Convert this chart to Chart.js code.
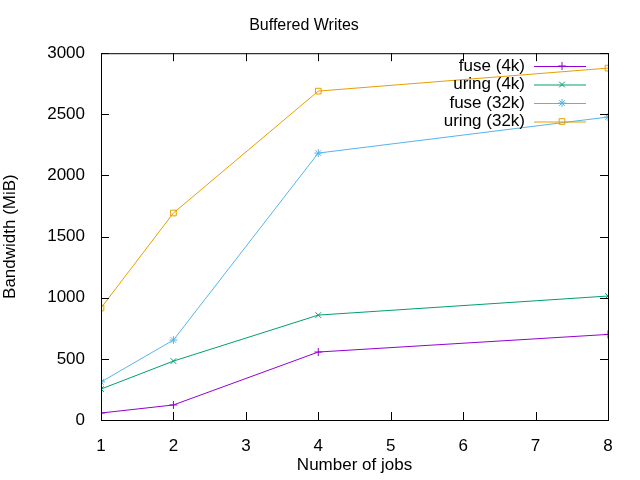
<!DOCTYPE html>
<html><head><meta charset="utf-8">
<script src="https://cdn.jsdelivr.net/npm/chart.js@4"></script>
<style>html,body{margin:0;padding:0;background:#fff}#w{width:640px;height:480px}</style>
</head><body><div id="w"><canvas id="c"></canvas></div>
<script>
const jobs = [1, 2, 4, 8];
const seriesLabels = ['fuse (4k)', 'uring (4k)', 'fuse (32k)', 'uring (32k)'];
const fuse4k = [57, 123, 556, 700];
const uring4k = [253, 482, 858, 1014];
const fuse32k = [311, 654, 2183, 2478];
const uring32k = [916, 1693, 2690, 2878];
const colors = ['#9400d3', '#009e73', '#56b4e9', '#e69f00'];
const styles = ['cross', 'crossRot', 'star', 'rect'];
const vals = [fuse4k, uring4k, fuse32k, uring32k];
const FONT = 'Liberation Sans, Arial, sans-serif';

const datasets = vals.map((v, i) => ({
  label: seriesLabels[i],
  data: jobs.map((x, k) => ({x, y: v[k]})),
  borderColor: colors[i], backgroundColor: 'rgba(0,0,0,0)',
  borderWidth: 1, pointStyle: styles[i], pointRadius: 4, pointBorderWidth: 1,
  pointBorderColor: colors[i], pointBackgroundColor: 'rgba(0,0,0,0)'
}));

const frame = {
  id: 'frame',
  afterDatasetsDraw(ch) {
    const {ctx, chartArea: a, scales: {x, y}} = ch;
    ctx.save();
    ctx.strokeStyle = '#000'; ctx.lineWidth = 1;
    ctx.strokeRect(a.left + 0.5, a.top + 0.5, a.right - a.left, a.bottom - a.top);
    ctx.beginPath();
    for (let v = 1; v <= 8; v++) { const px = Math.round(x.getPixelForValue(v)) + 0.5;
      ctx.moveTo(px, a.bottom); ctx.lineTo(px, a.bottom - 8); ctx.moveTo(px, a.top); ctx.lineTo(px, a.top + 8); }
    for (let v = 0; v <= 3000; v += 500) { const py = Math.round(y.getPixelForValue(v)) + 0.5;
      ctx.moveTo(a.left, py); ctx.lineTo(a.left + 8, py); ctx.moveTo(a.right, py); ctx.lineTo(a.right - 8, py); }
    ctx.stroke();
    ctx.font = '17px ' + FONT; ctx.textAlign = 'right'; ctx.textBaseline = 'middle';
    ch.data.datasets.forEach((d, i) => {
      const yy = 66 + i * 18.5;
      ctx.fillStyle = '#000'; ctx.fillText(d.label, 525, yy);
      ctx.strokeStyle = d.borderColor; ctx.fillStyle = 'rgba(0,0,0,0)';
      ctx.beginPath(); ctx.moveTo(534, yy + 0.5); ctx.lineTo(586, yy + 0.5); ctx.stroke();
      Chart.helpers.drawPoint(ctx, {pointStyle: d.pointStyle, radius: 4, borderWidth: 1}, 562, yy);
    });
    ctx.restore();
  }
};

new Chart(document.getElementById('c'), {
  type: 'line',
  data: {datasets},
  options: {
    responsive: true, maintainAspectRatio: false, animation: false,
    layout: {padding: {top: 0, right: 32, bottom: 0, left: 0}},
    plugins: {
      legend: {display: false}, tooltip: {enabled: false},
      title: {display: true, text: 'Buffered Writes', color: '#000', font: {family: FONT, size: 16, weight: 'normal'}, padding: {top: 16, bottom: 18}}
    },
    scales: {
      x: {type: 'linear', min: 1, max: 8,
        ticks: {stepSize: 1, color: '#000', font: {family: FONT, size: 17}, padding: 8},
        grid: {display: false}, border: {display: false},
        afterFit(s) { s.height = 60; },
        title: {display: true, text: 'Number of jobs', color: '#000', font: {family: FONT, size: 17}, padding: {top: 4, bottom: 4}}},
      y: {min: 0, max: 3000,
        ticks: {stepSize: 500, color: '#000', font: {family: FONT, size: 17}, padding: 8,
          callback: v => String(v)},
        grid: {display: false}, border: {display: false},
        afterFit(s) { s.width = 101; },
        title: {display: true, text: 'Bandwidth (MiB)', color: '#000', font: {family: FONT, size: 17}, padding: {top: 0, bottom: 4}}}
    }
  },
  plugins: [frame]
});
</script></body></html>
